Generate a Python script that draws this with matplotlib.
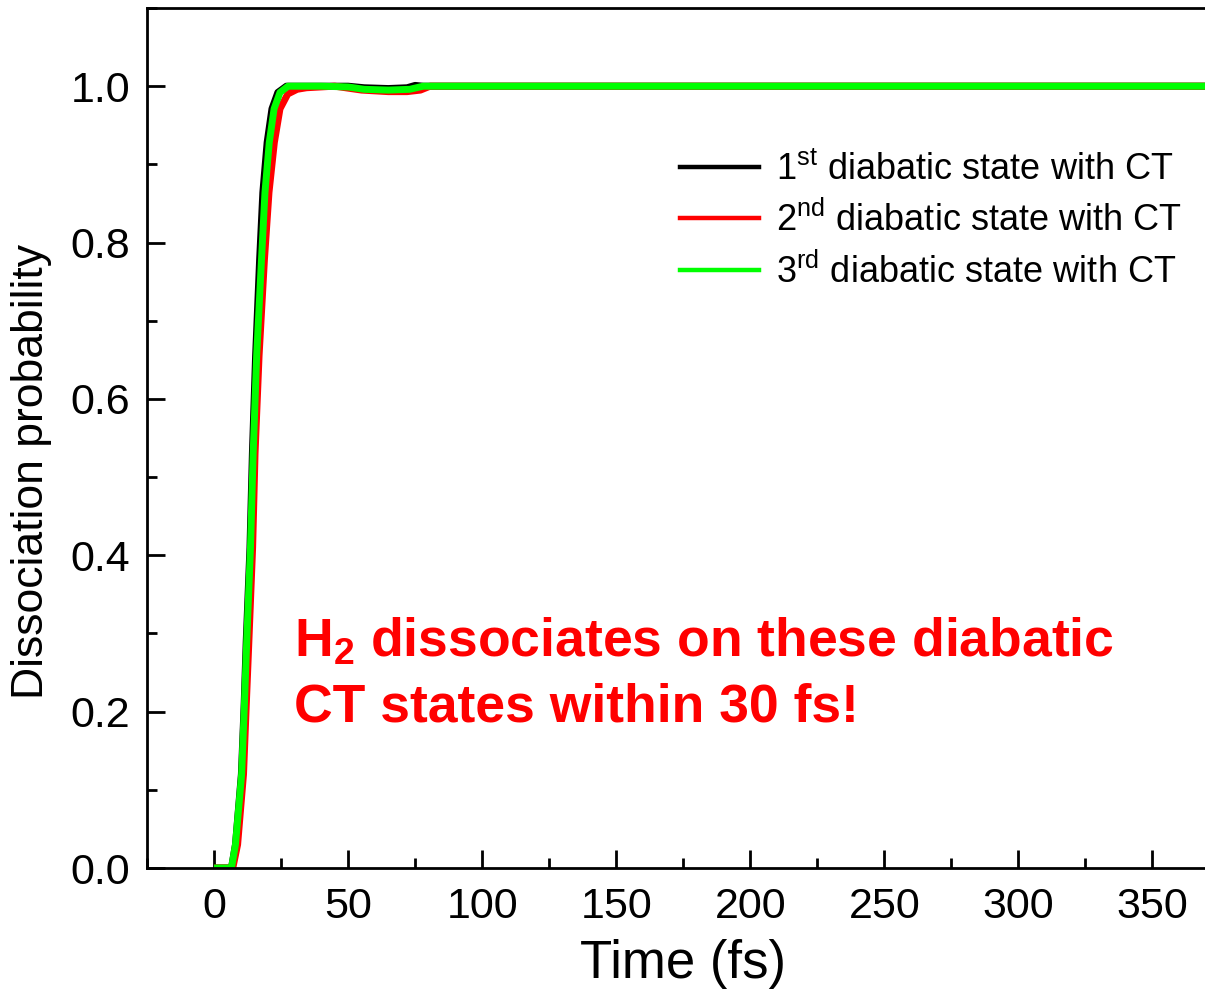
import matplotlib
matplotlib.use("Agg")
import matplotlib.pyplot as plt
from matplotlib.lines import Line2D
from matplotlib.ticker import MultipleLocator

plt.rcParams['font.family'] = ['Liberation Sans', 'DejaVu Sans']
plt.rcParams['mathtext.fontset'] = 'custom'
plt.rcParams['mathtext.rm'] = 'Liberation Sans'
plt.rcParams['mathtext.bf'] = 'Liberation Sans:bold'
plt.rcParams['mathtext.default'] = 'regular'

# time (fs) and dissociation probability
t_first = [0, 6.5, 8, 10.2, 11.2, 12.0, 13.4, 14.3, 15.5, 17.0, 18.2, 19.8, 21.6, 23.8, 27.0,
           40, 50, 56, 65, 72, 75, 78, 370]
p_first = [0, 0, 0.03, 0.12, 0.206, 0.29, 0.41, 0.53, 0.655, 0.778, 0.864, 0.928, 0.971, 0.992, 1.0,
           1.0, 1.0, 0.998, 0.997, 0.998, 1.001, 1.0, 1.0]

t_second = [0, 7, 8.8, 11.0, 12.0, 13.0, 14.4, 15.3, 16.8, 18.8, 20.5, 22.5, 24.6, 27.5, 31, 34.5,
            45, 55, 65, 72, 77, 80.6, 370]
p_second = [0, 0, 0.03, 0.12, 0.206, 0.29, 0.41, 0.53, 0.655, 0.778, 0.864, 0.928, 0.971, 0.99, 0.996, 0.998,
            1.0, 0.995, 0.993, 0.993, 0.995, 1.0, 1.0]

t_third = [0, 6.5, 8, 10.3, 11.3, 12.2, 13.6, 14.6, 15.9, 17.7, 19.0, 20.6, 22.4, 24.6, 27.6,
           40, 50, 56, 65, 73, 78, 370]
p_third = [0, 0, 0.03, 0.12, 0.206, 0.29, 0.41, 0.53, 0.655, 0.778, 0.864, 0.928, 0.971, 0.992, 1.0,
           1.0, 0.999, 0.996, 0.995, 0.996, 1.0, 1.0]

labels = [r"1$^{st}$ diabatic state with CT",
          r"2$^{nd}$ diabatic state with CT",
          r"3$^{rd}$ diabatic state with CT"]
colors = ["black", "#ff0000", "#00ff00"]

W, H = 1205, 989
fig = plt.figure(figsize=(W / 100, H / 100), dpi=100)
ax = fig.add_axes([147 / W, (H - 868) / H, 1059 / W, 860 / H])

for t, p, c in zip([t_first, t_second, t_third], [p_first, p_second, p_third], colors):
    ax.plot(t, p, color=c, lw=5, solid_joinstyle='round', solid_capstyle='butt')

ax.set_xlim(-25, 370)
ax.set_ylim(0, 1.1)
ax.xaxis.set_major_locator(MultipleLocator(50))
ax.xaxis.set_minor_locator(MultipleLocator(25))
ax.yaxis.set_major_locator(MultipleLocator(0.2))
ax.yaxis.set_minor_locator(MultipleLocator(0.1))
ax.yaxis.set_major_formatter(matplotlib.ticker.FormatStrFormatter('%.1f'))

ax.tick_params(which='both', direction='in', width=2, labelsize=31)
ax.tick_params(which='major', length=13)
ax.tick_params(which='minor', length=7)
ax.tick_params(axis='x', pad=14)
ax.tick_params(axis='y', pad=12)
for s in ['left', 'bottom', 'top']:
    ax.spines[s].set_linewidth(2)
ax.spines['right'].set_visible(False)

ax.set_xlabel("Time (fs)", fontsize=38)
ax.set_ylabel("Dissociation probability", fontsize=32)
ax.xaxis.set_label_coords(0.506, -0.083)
ax.yaxis.set_label_coords(-0.09, 0.461)
ax.xaxis.label.set_va('top')

handles = [Line2D([], [], color=c, lw=3.2) for c in colors]
fig.legend(handles, labels, loc='upper left', bbox_to_anchor=(680 / W, 1 - 152 / H),
           frameon=False, fontsize=26, handlelength=2.2, handletextpad=0.45,
           labelspacing=0.4, borderpad=0, borderaxespad=0)

fig.text(294 / W, 1 - 657 / H, r"H$_\mathbf{2}$ dissociates on these diabatic",
         color="#ff0000", fontsize=38.5, fontweight='bold', va='baseline')
fig.text(294 / W, 1 - 722 / H, "CT states within 30 fs!",
         color="#ff0000", fontsize=38.5, fontweight='bold', va='baseline')

fig.savefig("out.png", dpi=100)
